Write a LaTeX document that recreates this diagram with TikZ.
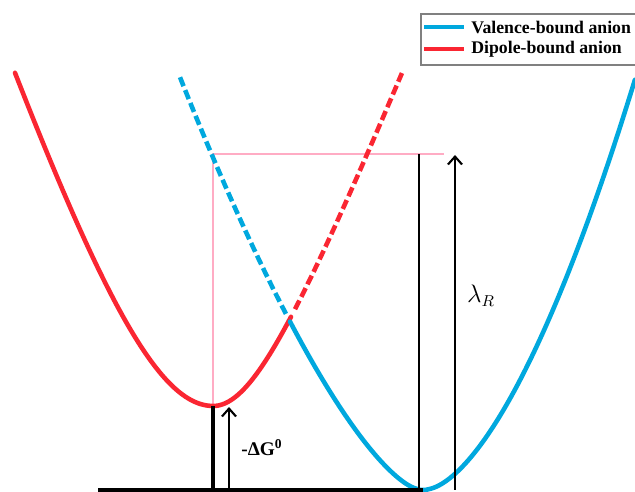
\documentclass[tikz,border=0pt]{standalone}
\usepackage{fontspec}
\setmainfont{Liberation Serif}
\usetikzlibrary{arrows.meta, positioning}
\definecolor{vbblue}{RGB}{0,168,222}
\definecolor{dbred}{RGB}{250,38,50}
\definecolor{guidepink}{RGB}{255,172,196}

\begin{document}
\begin{tikzpicture}[x=0.02cm, y=-0.02cm,
    curve/.style={line width=2.6pt, line cap=round, samples=80},
    dashcurve/.style={line width=2.6pt, dash pattern=on 5.5pt off 2.4pt, samples=60},
    guide/.style={guidepink, line width=1.1pt},
    level/.style={black, line width=2pt},
    energy/.style={-{Straight Barb[length=4.5pt,width=8pt]}, black, line width=1.2pt},
    legendtext/.style={font=\fontsize{10.1}{12}\selectfont\bfseries, anchor=west, inner sep=0pt}]
        \useasboundingbox (0,0) rectangle (635,492);
        % Key points
        \coordinate (dbmin) at (213,406);
        \coordinate (vbmin) at (423,490);
        \coordinate (topleft) at (213,154);
        \coordinate (topright) at (444,154);
        \coordinate (base0) at (98,490);
        \coordinate (baseA) at (213,490);
        \coordinate (baseB) at (229,490);
        \coordinate (tipB) at (229,407);
        \coordinate (baseC) at (419,490);
        \coordinate (topC) at (419,154);
        \coordinate (baseD) at (455,490);
        \coordinate (tipD) at (455,155);
        % Guide lines
        \draw[guide] (dbmin) -- (topleft) -- (topright);
        % Dipole-bound anion curve
        \draw[dbred, curve] plot[domain=-1.98:0] ({213+100*\x}, {406-100*(sqrt(13.18+9*\x*\x)-3.63)})
          -- plot[domain=0:0.78] ({213+100*\x}, {406-100*(sqrt(2.836+6.245*\x*\x)-1.684)});
        \draw[dbred, dashcurve] plot[domain=0.82:1.89] ({213+100*\x}, {406-100*(sqrt(2.836+6.245*\x*\x)-1.684)});
        % Valence-bound anion curve
        \draw[vbblue, dashcurve] plot[domain=2.43:1.37] ({423-100*\x}, {495.1-113.6*(sqrt(\x*\x+0.0144))^1.465});
        \draw[vbblue, curve] plot[domain=1.33:0] ({423-100*\x}, {495.1-113.6*(sqrt(\x*\x+0.0144))^1.465})
          -- plot[domain=0:2.12] ({423+100*\x}, {493.4-117.7*(sqrt(\x*\x+0.0144))^1.67});
        % Baseline and levels
        \draw[black, line width=1.8pt] (base0) -- (vbmin);
        \draw[level] (baseA) -- (dbmin);
        \draw[black, line width=1.3pt] (baseC) -- (topC);
        % Energies
        \draw[energy] (baseB) -- (tipB);
        \draw[energy] (baseD) -- (tipD);
        \node[font=\fontsize{11}{13}\selectfont\bfseries] (dG) at (262,448) {-ΔG\textsuperscript{0}};
        \node[font=\fontsize{13.5}{15}\selectfont] (lamR) at (481,296) {$\lambda_R$};
        % Legend
        \draw[gray, line width=0.7pt] (635,14) -- (421,14) -- (421,65) -- (635,65);
        \node[legendtext] (vbtext) at (471,27) {Valence-bound anion};
        \node[legendtext] (dbtext) at (471,49) {Dipole-bound anion};
        \draw[vbblue, line width=1.8pt] ([xshift=-4pt]vbtext.west) -- ++(-40,0);
        \draw[dbred, line width=1.8pt] ([xshift=-4pt]dbtext.west) -- ++(-40,0);
\end{tikzpicture}
\end{document}
